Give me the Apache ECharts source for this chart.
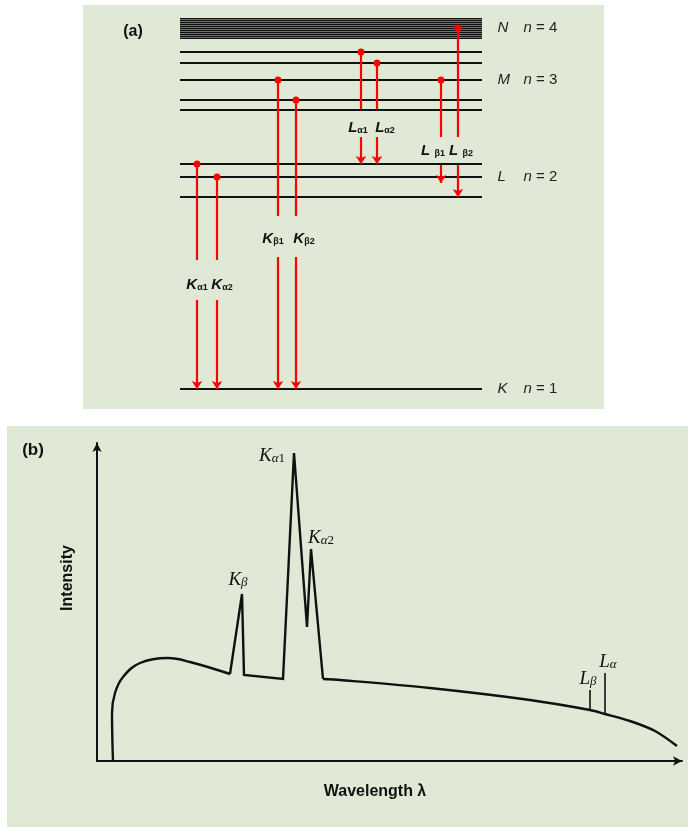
<!DOCTYPE html>
<html><head><meta charset="utf-8">
<script src="https://cdn.jsdelivr.net/npm/echarts@6/dist/echarts.min.js"></script>
<style>html,body{margin:0;padding:0;background:#fff}#c{width:688px;height:827px}</style>
</head><body><div id="c"></div>
<script>
// ---------- Panel (a): energy-level diagram (heights above the K level) ----------
const levelK = [0];
const levelL = [192, 212, 225];
const levelM = [279, 289, 309, 326, 337];
const levelN = [351, 353, 355, 357, 359, 361, 363, 365, 367, 369, 371];
const levelSpan = [0, 302];
const shellNames = ['K', 'L', 'M', 'N'];
const shellNumbers = ['1', '2', '3', '4'];
const shellLabelLevel = [0, 212, 309, 361];

const transMain = ['K', 'K', 'K', 'K', 'L', 'L', 'L ', 'L '];
const transSub = ['α1', 'α2', 'β1', 'β2', 'α1', 'α2', 'β1', 'β2'];
const transX = [17, 37, 98, 116, 181, 197, 261, 278];
const transFrom = [225, 212, 309, 289, 337, 326, 309, 361];
const transTo = [0, 0, 0, 0, 225, 225, 206, 192];
const gapTop = [129, 129, 173, 173, 280, 280, 252, 252];
const gapBottom = [89, 89, 132, 132, 252, 252, 224, 224];

// ---------- Panel (b): X-ray spectrum ----------
const contLeftX = [16, 15, 18, 26, 43, 71, 93, 133];
const contLeftY = [0, 48, 68, 84, 98, 103, 99, 87];
const peakX = [133, 145, 147, 186, 197, 210, 214, 226];
const peakY = [87, 167, 86, 82, 308, 134, 212, 82];
const contRightX = [226, 243, 333, 433, 493, 508, 533, 558, 580];
const contRightY = [82, 81, 73, 61, 51, 47, 40, 30, 15];
const lLineX = [493, 508];
const lLineBase = [51, 47];
const lLineTop = [71, 88];
const specMain = ['K', 'K', 'K', 'L', 'L'];
const specSub = ['β', 'α', 'α', 'β', 'α'];
const specIndex = ['', '1', '2', '', ''];
const specAnchorX = [145, 197, 214, 493, 508];
const specAnchorY = [167, 308, 212, 71, 88];

// ---------- styles ----------
const BG = '#dfe9d5';
const RED = '#ff0000';
const INK = '#111111';
const SANS = '"Liberation Sans", Arial, sans-serif';
const SERIF = '"Liberation Serif", "DejaVu Serif", serif';
const transDx = [0, 5, -5, 8, -3, 8, -8, 3];
const transDy = [3, 3, 1, 1, 3, 3, -2, -2];
const specOffset = [[-4, -15], [-22, 2], [10, -12], [-2, -12], [3, -12]];
const HIDDEN = {color: 'rgba(0,0,0,0)'};
const NOBORDER = {textBorderWidth: 0, textBorderColor: 'transparent', textShadowBlur: 0};

const chart = echarts.init(document.getElementById('c'), null, {renderer: 'canvas'});

const hLine = y => ({coords: [[levelSpan[0], y], [levelSpan[1], y]]});
const txt = (o) => Object.assign({color: '#111', opacity: 1}, NOBORDER, o);

const option = {
  animation: false,
  backgroundColor: '#ffffff',
  grid: [
    {left: 180, top: 18, width: 302, height: 371},
    {left: 97, top: 443, width: 585, height: 318}
  ],
  xAxis: [
    {gridIndex: 0, type: 'value', min: 0, max: 302, show: false},
    {gridIndex: 1, type: 'value', min: 0, max: 585,
      axisLine: {show: true, onZero: false, symbol: ['none', 'arrow'], symbolSize: [7, 9], lineStyle: {color: INK, width: 2}},
      axisTick: {show: false}, axisLabel: {show: false}, splitLine: {show: false}}
  ],
  yAxis: [
    {gridIndex: 0, type: 'value', min: 0, max: 371, show: false},
    {gridIndex: 1, type: 'value', min: 0, max: 318,
      axisLine: {show: true, onZero: false, symbol: ['none', 'arrow'], symbolSize: [7, 9], lineStyle: {color: INK, width: 2}},
      axisTick: {show: false}, axisLabel: {show: false}, splitLine: {show: false}}
  ],
  graphic: [
    {type: 'rect', z: -10, shape: {x: 83, y: 5, width: 521, height: 404}, style: {fill: BG}},
    {type: 'rect', z: -10, shape: {x: 7, y: 426, width: 681, height: 401}, style: {fill: BG}},
    {type: 'text', x: 133, y: 32, style: {text: '(a)', font: 'bold 16px ' + SANS, fill: '#111', align: 'center', verticalAlign: 'middle', textAlign: 'center', textVerticalAlign: 'middle'}},
    {type: 'text', x: 33, y: 450, style: {text: '(b)', font: 'bold 17px ' + SANS, fill: '#111', align: 'center', verticalAlign: 'middle', textAlign: 'center', textVerticalAlign: 'middle'}},
    {type: 'text', x: 68, y: 578, rotation: Math.PI / 2, style: {text: 'Intensity', font: 'bold 16px ' + SANS, fill: '#111', align: 'center', verticalAlign: 'middle', textAlign: 'center', textVerticalAlign: 'middle'}},
    {type: 'text', x: 375, y: 792, style: {text: 'Wavelength λ', font: 'bold 16px ' + SANS, fill: '#111', align: 'center', verticalAlign: 'middle', textAlign: 'center', textVerticalAlign: 'middle'}}
  ],
  series: [
    // N band background
    {type: 'lines', coordinateSystem: 'cartesian2d', xAxisIndex: 0, yAxisIndex: 0, clip: false,
      symbol: 'none', lineStyle: {color: '#707070', width: 20, opacity: 1},
      data: [hLine((levelN[0] + levelN[levelN.length - 1]) / 2)]},
    // N sublevels
    {type: 'lines', coordinateSystem: 'cartesian2d', xAxisIndex: 0, yAxisIndex: 0, clip: false,
      symbol: 'none', lineStyle: {color: INK, width: 1.2, opacity: 1},
      data: levelN.map(hLine)},
    // K, L, M levels
    {type: 'lines', coordinateSystem: 'cartesian2d', xAxisIndex: 0, yAxisIndex: 0, clip: false,
      symbol: 'none', lineStyle: {color: INK, width: 2.2, opacity: 1},
      data: levelK.concat(levelL, levelM).map(hLine)},
    // transitions: upper parts with start dots
    {type: 'lines', coordinateSystem: 'cartesian2d', xAxisIndex: 0, yAxisIndex: 0, clip: false, z: 5,
      symbol: ['circle', 'none'], symbolSize: [7, 1], lineStyle: {color: RED, width: 2.2, opacity: 1},
      itemStyle: {color: RED},
      data: transX.map((x, i) => ({coords: [[x, transFrom[i]], [x, gapTop[i]]]}))},
    // transitions: lower parts with arrows
    {type: 'lines', coordinateSystem: 'cartesian2d', xAxisIndex: 0, yAxisIndex: 0, clip: false, z: 5,
      symbol: ['none', 'arrow'], symbolSize: [1, 8], lineStyle: {color: RED, width: 2.2, opacity: 1},
      itemStyle: {color: RED},
      data: transX.map((x, i) => ({coords: [[x, gapBottom[i]], [x, transTo[i]]]}))},
    // transition labels
    {type: 'scatter', xAxisIndex: 0, yAxisIndex: 0, clip: false, symbolSize: 1, itemStyle: HIDDEN, z: 6,
      data: transX.map((x, i) => ({
        value: [x, (gapTop[i] + gapBottom[i]) / 2],
        label: {offset: [transDx[i], transDy[i]], formatter: '{m|' + transMain[i] + '}{s|' + transSub[i] + '}'}
      })),
      label: txt({show: true, position: 'inside',
        rich: {
          m: txt({fontFamily: SANS, fontSize: 15, fontWeight: 'bold', fontStyle: 'italic', lineHeight: 18, verticalAlign: 'bottom'}),
          s: txt({fontFamily: SANS, fontSize: 9, fontWeight: 'bold', lineHeight: 12, verticalAlign: 'bottom'})
        }})},
    // shell labels
    {type: 'scatter', xAxisIndex: 0, yAxisIndex: 0, clip: false, symbolSize: 1, itemStyle: HIDDEN, z: 6,
      data: shellLabelLevel.map((y, i) => ({
        value: [317, y],
        label: {formatter: '{s|' + shellNames[i] + '}{n|n}{e| = ' + shellNumbers[i] + '}'}
      })),
      label: txt({show: true, position: 'right', distance: 0,
        rich: {
          s: txt({fontFamily: SANS, fontSize: 15, fontStyle: 'italic', color: '#222', width: 26}),
          n: txt({fontFamily: SANS, fontSize: 15, fontStyle: 'italic', color: '#222'}),
          e: txt({fontFamily: SANS, fontSize: 15, color: '#222'})
        }})},

    // ---------- panel (b) ----------
    {type: 'line', xAxisIndex: 1, yAxisIndex: 1, smooth: 0.4, showSymbol: false, symbol: 'none',
      lineStyle: {color: INK, width: 2.4}, data: contLeftX.map((x, i) => [x, contLeftY[i]])},
    {type: 'line', xAxisIndex: 1, yAxisIndex: 1, smooth: false, showSymbol: false, symbol: 'none',
      lineStyle: {color: INK, width: 2.4, join: 'miter'}, data: peakX.map((x, i) => [x, peakY[i]])},
    {type: 'line', xAxisIndex: 1, yAxisIndex: 1, smooth: 0.3, showSymbol: false, symbol: 'none',
      lineStyle: {color: INK, width: 2.4}, data: contRightX.map((x, i) => [x, contRightY[i]])},
    {type: 'lines', coordinateSystem: 'cartesian2d', xAxisIndex: 1, yAxisIndex: 1, clip: false,
      symbol: 'none', lineStyle: {color: INK, width: 1.6, opacity: 1},
      data: lLineX.map((x, i) => ({coords: [[x, lLineBase[i]], [x, lLineTop[i]]]}))},
    {type: 'scatter', xAxisIndex: 1, yAxisIndex: 1, clip: false, symbolSize: 1, itemStyle: HIDDEN, z: 6,
      data: specAnchorX.map((x, i) => ({
        value: [x, specAnchorY[i]],
        label: {offset: specOffset[i], formatter: '{m|' + specMain[i] + '}{s|' + specSub[i] + '}' + (specIndex[i] ? '{d|' + specIndex[i] + '}' : '')}
      })),
      label: txt({show: true, position: 'inside',
        rich: {
          m: txt({fontFamily: SERIF, fontSize: 19, fontStyle: 'italic', lineHeight: 20, verticalAlign: 'bottom'}),
          s: txt({fontFamily: SERIF, fontSize: 13, fontStyle: 'italic', lineHeight: 13, verticalAlign: 'bottom'}),
          d: txt({fontFamily: SERIF, fontSize: 13, lineHeight: 13, verticalAlign: 'bottom'})
        }})}
  ]
};
chart.setOption(option);
</script>
</body></html>
